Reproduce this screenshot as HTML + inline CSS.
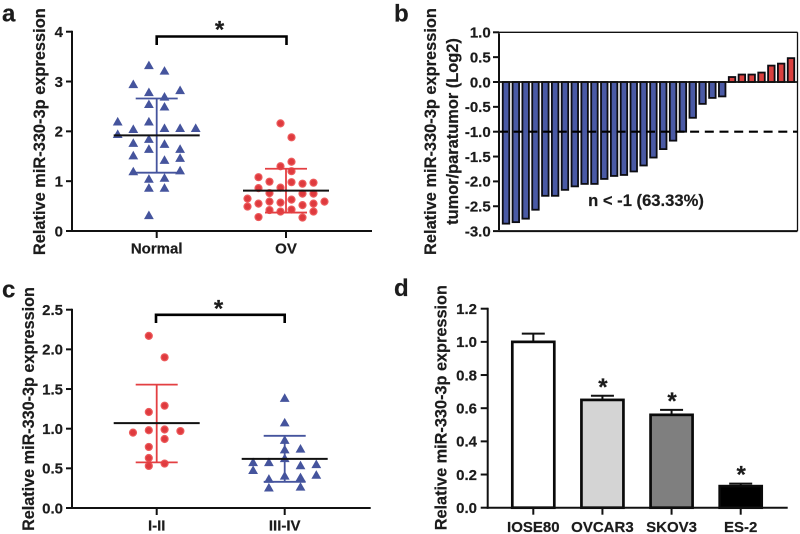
<!DOCTYPE html>
<html lang="en">
<head>
<meta charset="utf-8">
<title>miR-330-3p expression figure</title>
<style>
  html, body { margin: 0; padding: 0; background: #fff; }
  #figure { display: block; width: 800px; height: 534px; filter: blur(0.3px); }
  text { font-family: "Liberation Sans", Arial, sans-serif; font-weight: bold; fill: #1c1c1c; stroke: #1c1c1c; stroke-width: 0.2px; }
</style>
</head>
<body>
<svg id="figure" xmlns="http://www.w3.org/2000/svg" width="800" height="534" viewBox="0 0 800 534">
  <rect width="800" height="534" fill="#fff"/>

  <text x="2" y="21.5" font-size="24">a</text>
  <text x="394" y="21.5" font-size="24">b</text>
  <text x="2" y="297.5" font-size="24">c</text>
  <text x="394" y="296" font-size="24">d</text>

  <text transform="translate(45,131.7) rotate(-90)" text-anchor="middle" font-size="16.4">Relative miR-330-3p expression</text>
  <text transform="translate(436,131.5) rotate(-90)" text-anchor="middle" font-size="16.4">Relative miR-330-3p expression</text>
  <text transform="translate(458,131.5) rotate(-90)" text-anchor="middle" font-size="16.4">tumor/paratumor (Log2)</text>
  <text transform="translate(34,409) rotate(-90)" text-anchor="middle" font-size="16.2">Relative miR-330-3p expression</text>
  <text transform="translate(446.7,407.7) rotate(-90)" text-anchor="middle" font-size="16.3">Relative miR-330-3p expression</text>

  <text x="646" y="206" text-anchor="middle" font-size="16.6">n &lt; -1 (63.33%)</text>

  <g id="panel-a"></g>
  <g id="panel-b"></g>
  <g id="panel-c"></g>
  <g id="panel-d"></g>
</svg>

<script>
/* ---------- Panel a data ---------- */
const aTicks = [0, 1, 2, 3, 4];
const aCategories = ['Normal', 'OV'];
const normalValues = [3.33, 3.22, 2.95, 2.83, 2.79, 2.70, 2.55, 2.50, 2.20, 2.20, 2.05, 2.07, 2.07, 2.07, 1.95, 1.85, 1.77, 1.75, 1.65, 1.65, 1.52, 1.47, 1.43, 1.20, 1.22, 1.05, 1.07, 0.87, 0.87, 0.32];
const normalColumns = [-0.5, 0.5, -1.5, 1.5, -0.5, 0.5, -0.5, 0.5, -0.5, -2.5, -1.5, 0.5, 1.5, 2.5, -2.5, -0.5, -1.5, 0.5, -0.5, 1.5, -1.5, 1.5, 0.5, -1.5, 1.5, -0.5, 0.5, -0.5, 0.5, -0.5];
const normalSummary = [1.92, 2.66, 1.17];
const ovValues = [2.16, 1.88, 1.39, 1.30, 1.20, 1.08, 0.99, 0.98, 0.95, 0.97, 0.86, 0.87, 0.76, 0.75, 0.75, 0.65, 0.49, 0.55, 0.59, 0.57, 0.63, 0.52, 0.55, 0.59, 0.42, 0.39, 0.43, 0.39, 0.28, 0.27];
const ovColumns = [-0.5, 0.5, 0.5, -0.5, 0.5, -2.5, -1.5, 0.5, 1.5, 2.5, -2.5, -0.5, -1.5, 1.5, 2.5, -3.5, -3.5, -2.5, -1.5, -0.5, 0.5, 1.5, 2.5, 3.5, -1.5, -0.5, 0.5, 2.5, -2.5, 1.5];
const ovSummary = [0.81, 1.25, 0.37];

/* ---------- Panel b data ---------- */
const bTicks = [1.0, 0.5, 0.0, -0.5, -1.0, -1.5, -2.0, -2.5, -3.0];
const bThreshold = -1.0;
const bValues = [-2.85, -2.82, -2.75, -2.57, -2.29, -2.29, -2.17, -2.10, -2.05, -2.05, -1.95, -1.89, -1.87, -1.80, -1.68, -1.52, -1.35, -1.18, -1.00, -0.72, -0.44, -0.32, -0.29, 0.10, 0.15, 0.15, 0.19, 0.33, 0.37, 0.48];

/* ---------- Panel c data ---------- */
const cTicks = [0.0, 0.5, 1.0, 1.5, 2.0, 2.5];
const cCategories = ['I-II', 'III-IV'];
const earlyValues = [2.17, 1.90, 1.29, 1.21, 0.95, 0.98, 0.99, 0.97, 0.87, 0.77, 0.63, 0.56, 0.53];
const earlyColumns = [-0.5, 0.5, 0.5, -0.5, -1.5, -0.5, 0.5, 1.5, 0.5, -0.5, -0.5, 0.5, -0.5];
const earlySummary = [1.07, 1.555, 0.575];
const lateValues = [1.39, 1.08, 0.86, 0.74, 0.75, 0.63, 0.58, 0.58, 0.555, 0.54, 0.48, 0.42, 0.41, 0.37, 0.39, 0.26, 0.27];
const lateColumns = [0, 0, 0, 0, 1, 0, -2, -1, 2, 1, -2, 2, 0, -1, 1, -1, 1];
const lateSummary = [0.62, 0.91, 0.33];

/* ---------- Panel d data ---------- */
const dTicks = [0.0, 0.2, 0.4, 0.6, 0.8, 1.0, 1.2];
const dCategories = ['IOSE80', 'OVCAR3', 'SKOV3', 'ES-2'];
const dValues = [1.0, 0.65, 0.56, 0.13];
const dErrors = [0.05, 0.025, 0.03, 0.015];
const dFills = ['#ffffff', '#d4d4d4', '#7f7f7f', '#000000'];
const dSignificant = [false, true, true, true];

/* ---------- Helpers ---------- */
const SVG_NS = 'http://www.w3.org/2000/svg';
const BLUE = '#45549d';
const RED = '#e33f42';
const AXIS = '#111';
const STAR_BASELINE = 10.8;

function add(parent, tag, attrs, content) {
  const node = document.createElementNS(SVG_NS, tag);
  for (const key in attrs) node.setAttribute(key, attrs[key]);
  if (content !== undefined) node.textContent = content;
  parent.appendChild(node);
  return node;
}
function linear(d0, d1, r0, r1) {
  return function (v) { return r0 + (v - d0) * (r1 - r0) / (d1 - d0); };
}
function kebab(s) { return String(s).toLowerCase().replace(/[^a-z0-9]+/g, '-'); }

function drawYAxis(g, scale, ticks, digits, axisX, tickLen, labelX, fontSize) {
  const line = add(g, 'line', { x1: axisX, x2: axisX, y1: scale(ticks[0]) + 1, y2: scale(ticks[ticks.length - 1]) - 1, stroke: AXIS, 'stroke-width': 2 });
  
  
  ticks.forEach(function (t) {
    const mark = add(g, 'line', { x1: axisX - tickLen, x2: axisX, y1: scale(t), y2: scale(t), stroke: AXIS, 'stroke-width': 2 });
    
    
    const label = add(g, 'text', { x: labelX, y: scale(t) + 5.3, 'text-anchor': 'end', 'font-size': fontSize }, t.toFixed(digits));
    
    
  });
}

function drawXAxis(g, x0, x1, y, centers, labels, labelY) {
  const line = add(g, 'line', { x1: x0, x2: x1, y1: y, y2: y, stroke: AXIS, 'stroke-width': 2 });
  
  
  labels.forEach(function (text, i) {
    const mark = add(g, 'line', { x1: centers(i), x2: centers(i), y1: y, y2: y + 7, stroke: AXIS, 'stroke-width': 2 });
    
    
    const label = add(g, 'text', { x: centers(i), y: labelY, 'text-anchor': 'middle', 'font-size': 15 }, text);
    
    
  });
}

function drawSwarm(g, kind, cx, step, values, columns, scale, name) {
  values.forEach(function (v, i) {
    const px = cx + columns[i] * step;
    const py = scale(v);
    let mark;
    if (kind === 'triangle') {
      mark = add(g, 'path', { d: 'M' + (px - 4.9) + ' ' + (py + 4.1) + 'L' + px + ' ' + (py - 4.5) + 'L' + (px + 4.9) + ' ' + (py + 4.1) + 'Z', fill: BLUE });
    } else {
      mark = add(g, 'circle', { cx: px, cy: py, r: 3.5, fill: '#df3a3e', stroke: '#ec5b5c', 'stroke-width': 1.2 });
    }
    
    
  });
}

function drawSummary(g, cx, summary, scale, color, name) {
  const mean = scale(summary[0]), hi = scale(summary[1]), lo = scale(summary[2]);
  const stem = add(g, 'line', { x1: cx, x2: cx, y1: hi, y2: lo, stroke: color, 'stroke-width': 1.8 });
  
  
  const capTop = add(g, 'line', { x1: cx - 21, x2: cx + 21, y1: hi, y2: hi, stroke: color, 'stroke-width': 1.8 });
  
  
  const capBottom = add(g, 'line', { x1: cx - 21, x2: cx + 21, y1: lo, y2: lo, stroke: color, 'stroke-width': 1.8 });
  
  
  const meanLine = add(g, 'line', { x1: cx - 43, x2: cx + 43, y1: mean, y2: mean, stroke: '#111', 'stroke-width': 2 });
  
  
}

function drawBracket(g, x0, x1, y, legY, starX, starCenterY) {
  const path = add(g, 'path', { d: 'M' + x0 + ' ' + legY + 'V' + y + 'H' + x1 + 'V' + legY, fill: 'none', stroke: '#000', 'stroke-width': 2.6 });
  
  
  const star = add(g, 'text', { x: starX, y: starCenterY + STAR_BASELINE, 'text-anchor': 'middle', 'font-size': 24 }, '*');
  
  
}

/* ---------- Panel a ---------- */
(function () {
  const g = document.getElementById('panel-a');
  const y = linear(0, 4, 231, 31.7);
  const cx = linear(0, 1, 156.7, 286);
  drawSwarm(g, 'triangle', cx(0), 15.6, normalValues, normalColumns, y, 'normal');
  drawSwarm(g, 'circle', cx(1), 11, ovValues, ovColumns, y, 'ov');
  drawSummary(g, cx(0), normalSummary, y, BLUE, 'normal');
  drawSummary(g, cx(1), ovSummary, y, RED, 'ov');
  drawYAxis(g, y, aTicks, 0, 72, 6, 63, 15);
  drawXAxis(g, 71, 372, 231, cx, aCategories, 253.5);
  drawBracket(g, 156.7, 286.5, 36.5, 45, 219.5, 26.5);
})();

/* ---------- Panel b ---------- */
(function () {
  const g = document.getElementById('panel-b');
  const y = linear(0, 1, 82, 32.3);
  const cx = linear(0, bValues.length - 1, 506, 791);
  const left = 499, right = 797.5;
  bValues.forEach(function (v, i) {
    const top = Math.min(y(0), y(v));
    const bar = add(g, 'rect', { x: cx(i) - 3.25, y: top, width: 6.5, height: Math.abs(y(v) - y(0)), fill: v < 0 ? '#4a5aa5' : '#d9403f', stroke: '#0c0c12', 'stroke-width': 1.8 });
    
    
  });
  const frameTop = add(g, 'line', { x1: left, x2: right, y1: y(1), y2: y(1), stroke: AXIS, 'stroke-width': 1.3 });
  
  
  const frameRight = add(g, 'line', { x1: right, x2: right, y1: y(1), y2: y(-3), stroke: AXIS, 'stroke-width': 1.3 });
  
  
  const frameBottom = add(g, 'line', { x1: left, x2: right, y1: y(-3), y2: y(-3), stroke: AXIS, 'stroke-width': 2 });
  
  
  const zero = add(g, 'line', { x1: left, x2: right, y1: y(0), y2: y(0), stroke: AXIS, 'stroke-width': 1.8 });
  
  
  const dash = add(g, 'line', { x1: left, x2: right, y1: y(bThreshold), y2: y(bThreshold), stroke: '#000', 'stroke-width': 2.2, 'stroke-dasharray': '9 5.7' });
  
  
  drawYAxis(g, y, bTicks, 1, left, 6, 490.7, 15);
})();

/* ---------- Panel c ---------- */
(function () {
  const g = document.getElementById('panel-c');
  const y = linear(0, 2.5, 508, 309.7);
  const cx = linear(0, 1, 156.7, 284.7);
  drawSwarm(g, 'circle', cx(0), 15.8, earlyValues, earlyColumns, y, 'stage-i-ii');
  drawSwarm(g, 'triangle', cx(1), 15.8, lateValues, lateColumns, y, 'stage-iii-iv');
  drawSummary(g, cx(0), earlySummary, y, RED, 'stage-i-ii');
  drawSummary(g, cx(1), lateSummary, y, BLUE, 'stage-iii-iv');
  drawYAxis(g, y, cTicks, 1, 72, 6, 63, 15);
  drawXAxis(g, 71, 370.7, 508, cx, cCategories, 530.3);
  drawBracket(g, 156, 284.7, 314.8, 323, 218.5, 305.5);
})();

/* ---------- Panel d ---------- */
(function () {
  const g = document.getElementById('panel-d');
  const y = linear(0, 1.2, 507.7, 308.7);
  const cx = linear(0, dValues.length - 1, 533.3, 740.7);
  dValues.forEach(function (v, i) {
    const label = kebab(dCategories[i]);
    const top = y(v + dErrors[i]);
    const err = add(g, 'line', { x1: cx(i), x2: cx(i), y1: top, y2: y(v), stroke: '#111', 'stroke-width': 2 });
    
    
    const cap = add(g, 'line', { x1: cx(i) - 11.5, x2: cx(i) + 11.5, y1: top, y2: top, stroke: '#111', 'stroke-width': 2 });
    
    
    const bar = add(g, 'rect', { x: cx(i) - 21, y: y(v), width: 42, height: y(0) - y(v), fill: dFills[i], stroke: '#0a0a0a', 'stroke-width': 2.7 });
    
    
    if (dSignificant[i]) {
      const star = add(g, 'text', { x: cx(i) + 0.5, y: top - 11.8 + STAR_BASELINE, 'text-anchor': 'middle', 'font-size': 24 }, '*');
      
      
    }
  });
  drawYAxis(g, y, dTicks, 1, 487.7, 7, 477, 15);
  drawXAxis(g, 486.7, 787.7, 507.7, cx, dCategories, 532);
})();
</script>
</body>
</html>
